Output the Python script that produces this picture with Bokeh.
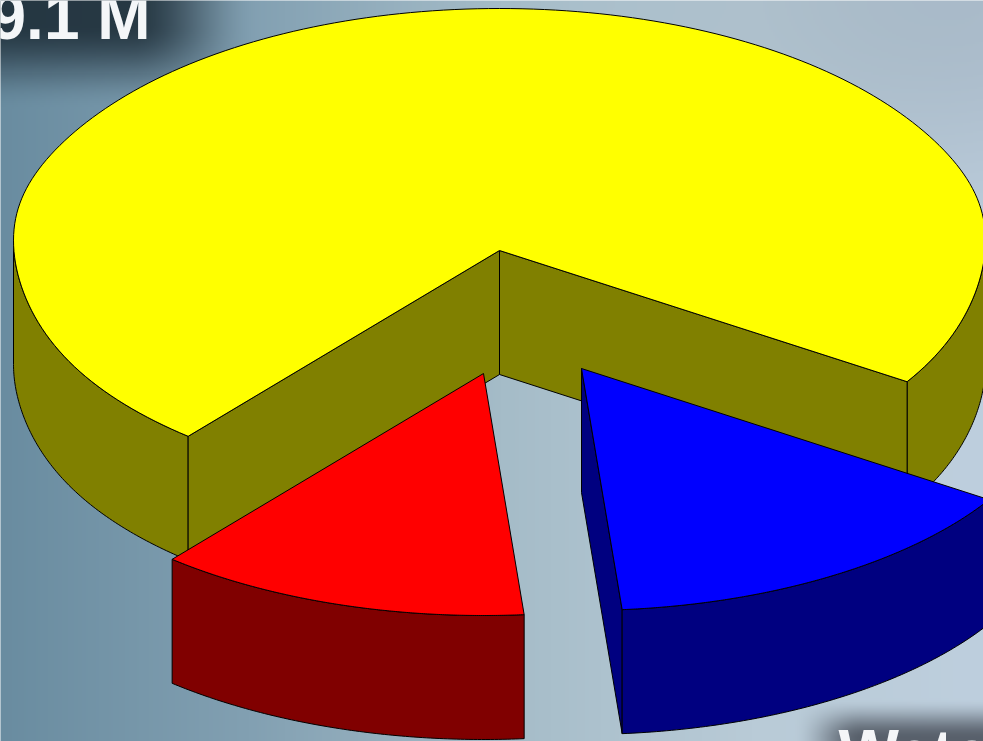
import numpy as np
from bokeh.plotting import figure
from bokeh.models import Range1d
from bokeh.core.properties import value
from bokeh.embed import file_html
from bokeh.resources import INLINE

# Data
categories = ["Yellow", "Red", "Blue"]
shares = [73.1, 12.4, 14.5]
top_colors = ["#FFFF00", "#FF0000", "#0000FF"]
side_colors = ["#808000", "#800000", "#000080"]
labels = ["9.1 M", "Water"]

# Projection of the 3D pie
W, H = 983, 741
RX, RY, DEPTH = 486, 242, 124
START = 327.0
BULGE = 10
centers = [(499, 250), (483, 373), (581, 368)]

angles = [START]
for s in shares:
    angles.append(angles[-1] + s / 100 * 360)


def rim(c, a0, a1, dy=0, n=90):
    t = np.radians(np.linspace(a0, a1, n))
    return c[0] + RX * np.cos(t), c[1] - RY * np.sin(t) + dy - BULGE * np.cos(t) ** 16


def smooth(v, a, b):
    u = np.clip((v - a) / (b - a), 0, 1)
    return u * u * (3 - 2 * u)


# Background: soft grey-blue gradient with two dark blurred label shadows
yy, xx = np.mgrid[0:371, 0:492]
xx = xx * 2.0
yy = yy * 2.0
nodes = [0, 250, 500, 750, 983]
bg = np.zeros((371, 492, 4), dtype=float)
for i, ch in enumerate([(105, 130, 165, 185, 190), (140, 160, 188, 203, 207), (160, 178, 200, 215, 222)]):
    bg[:, :, i] = np.interp(xx, nodes, ch)
bg[:, :, :3] -= (20 * (1 - smooth(yy, 0, 300)) * smooth(xx, 500, 983))[:, :, None]
a1 = 0.85 * (1 - smooth(xx, 130, 260)) * (1 - smooth(yy, 25, 110))
a2 = 0.75 * smooth(xx, 790, 860) * smooth(yy, 695, 735)
for i, d in enumerate((25, 40, 50)):
    bg[:, :, i] = bg[:, :, i] * (1 - a1) + d * a1
for i, d in enumerate((55, 60, 70)):
    bg[:, :, i] = bg[:, :, i] * (1 - a2) + d * a2
bg[:, :, 3] = 255
img = np.zeros((371, 492), dtype=np.uint32)
view = img.view(dtype=np.uint8).reshape((371, 492, 4))
view[:, :, :] = bg.astype(np.uint8)

p = figure(width=W, height=H, output_backend="svg", toolbar_location=None,
           x_range=Range1d(0, W), y_range=Range1d(H, 0), min_border=0,
           outline_line_color=None, margin=(0, 0, 0, 0))
p.axis.visible = False
p.grid.visible = False

p.image_rgba(image=[img], x=-3, y=-3, dw=W + 6, dh=H + 6)


def wall(xs, ys, color):
    p.patch(list(xs), list(ys), fill_color=color, line_color="black", line_width=1)


def arc_wall(c, a0, a1, color):
    x0, y0 = rim(c, a0, a1)
    x1, y1 = rim(c, a0, a1, DEPTH)
    wall(np.r_[x0, x1[::-1]], np.r_[y0, y1[::-1]], color)


def radial_wall(c, a, color):
    x0, y0 = rim(c, a, a, n=1)
    wall([c[0], x0[0], x0[0], c[0]], [c[1], y0[0], y0[0] + DEPTH, c[1] + DEPTH], color)


def top(c, a0, a1, color):
    x0, y0 = rim(c, a0, a1, n=200)
    wall(np.r_[c[0], x0], np.r_[c[1], y0], color)


# Yellow slice: from START round the back to the red slice
y0, y1 = angles[0], angles[1]
arc_wall(centers[0], 327, 360, side_colors[0])
arc_wall(centers[0], 180, y1 - 360, side_colors[0])
radial_wall(centers[0], y0, side_colors[0])
radial_wall(centers[0], y1, side_colors[0])
top(centers[0], y0, y1, top_colors[0])

# Red slice
r0, r1 = angles[1], angles[2]
arc_wall(centers[1], r0, r1, side_colors[1])
top(centers[1], r0, r1, top_colors[1])

# Blue slice
b0, b1 = angles[2], angles[3]
radial_wall(centers[2], b0, side_colors[2])
arc_wall(centers[2], b0, b1, side_colors[2])
top(centers[2], b0, b1, top_colors[2])

p.text(x=[-10], y=[16], text=[labels[0]], text_font=value("Liberation Sans"),
       text_font_style="bold", text_font_size="64px", text_color="#F4F6F8",
       text_baseline="alphabetic")
p.text(x=[838], y=[716], text=[labels[1]], text_font=value("Liberation Sans"),
       text_font_style="bold", text_font_size="64px", text_color="#F4F6F8",
       text_baseline="top")

open("out.html", "w").write(file_html(p, INLINE))
